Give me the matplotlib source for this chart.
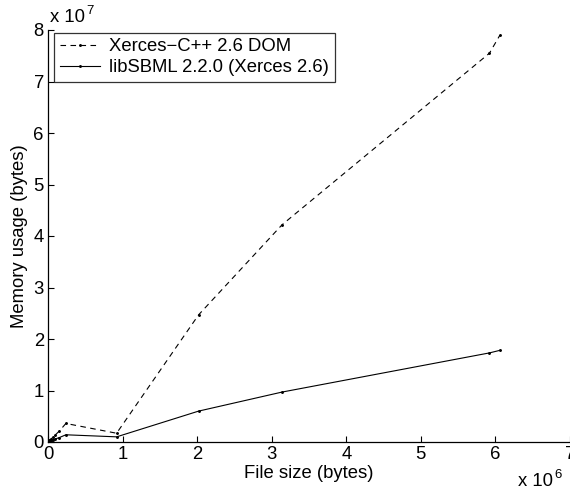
import matplotlib
matplotlib.use("Agg")
import matplotlib.pyplot as plt
import numpy as np

plt.rcParams["font.family"] = ["Liberation Sans", "DejaVu Sans"]

# File sizes (bytes) of the test models
file_size = [0.005e6, 0.01e6, 0.02e6, 0.04e6, 0.07e6, 0.10e6, 0.15e6, 0.24e6,
             0.92e6, 2.02e6, 3.14e6, 5.92e6, 6.06e6]
# Peak memory (bytes) for the plain Xerces DOM parse
xerces_mem = [0.08e6, 0.15e6, 0.30e6, 0.55e6, 1.0e6, 1.4e6, 2.1e6, 3.6e6,
              1.7e6, 24.7e6, 42.2e6, 75.5e6, 79.0e6]
# Peak memory (bytes) for libSBML built on Xerces
libsbml_mem = [0.05e6, 0.08e6, 0.13e6, 0.25e6, 0.40e6, 0.60e6, 0.85e6, 1.4e6,
               1.0e6, 6.0e6, 9.7e6, 17.3e6, 17.8e6]

series_labels = ["Xerces\u2212C++ 2.6 DOM", "libSBML 2.2.0 (Xerces 2.6)"]
x_ticks = [0, 1, 2, 3, 4, 5, 6, 7]
y_ticks = [0, 1, 2, 3, 4, 5, 6, 7, 8]
x_scale = 1e6
y_scale = 1e7

fs = 13.3
fig = plt.figure(figsize=(5.70, 4.91), dpi=100)
ax = fig.add_axes([48 / 570, 49 / 491, 522 / 570, 412 / 491])

xs = np.array(file_size) / x_scale
ax.plot(xs, np.array(xerces_mem) / y_scale, color="black", lw=0.8,
        ls=(0, (5, 4)), marker=".", ms=2.2, label=series_labels[0])
ax.plot(xs, np.array(libsbml_mem) / y_scale, color="black", lw=0.8,
        ls="-", marker=".", ms=2.2, label=series_labels[1])

ax.set_xlim(0, 7)
ax.set_ylim(0, 8)
ax.set_xticks(x_ticks)
ax.set_yticks(y_ticks)
ax.set_xticklabels([str(t) for t in x_ticks])
ax.set_yticklabels([str(t) for t in y_ticks])
ax.tick_params(direction="in", length=4, width=0.8, labelsize=fs, pad=3)

for side in ("top", "right"):
    ax.spines[side].set_visible(False)
for side in ("left", "bottom"):
    ax.spines[side].set_linewidth(0.9)

ax.set_xlabel("File size (bytes)", fontsize=fs, labelpad=1)
ax.set_ylabel("Memory usage (bytes)", fontsize=fs, labelpad=4)

# Exponent labels for the axes
fig.text(50 / 570, 1 - 18 / 491, "x 10", fontsize=fs, ha="left", va="center")
fig.text(86 / 570, 1 - 11 / 491, "7", fontsize=fs * 0.72, ha="left", va="center")
fig.text(518 / 570, 1 - 482 / 491, "x 10", fontsize=fs, ha="left", va="center")
fig.text(554 / 570, 1 - 475 / 491, "6", fontsize=fs * 0.72, ha="left", va="center")

leg = ax.legend(loc="upper left", bbox_to_anchor=(0.0115, 0.993), borderaxespad=0,
                fontsize=fs, frameon=True, fancybox=False, handlelength=2.2,
                handletextpad=0.5, borderpad=0.3, labelspacing=0.2)
leg.get_frame().set_edgecolor("black")
leg.get_frame().set_linewidth(0.9)

fig.savefig("out.png", dpi=100)
